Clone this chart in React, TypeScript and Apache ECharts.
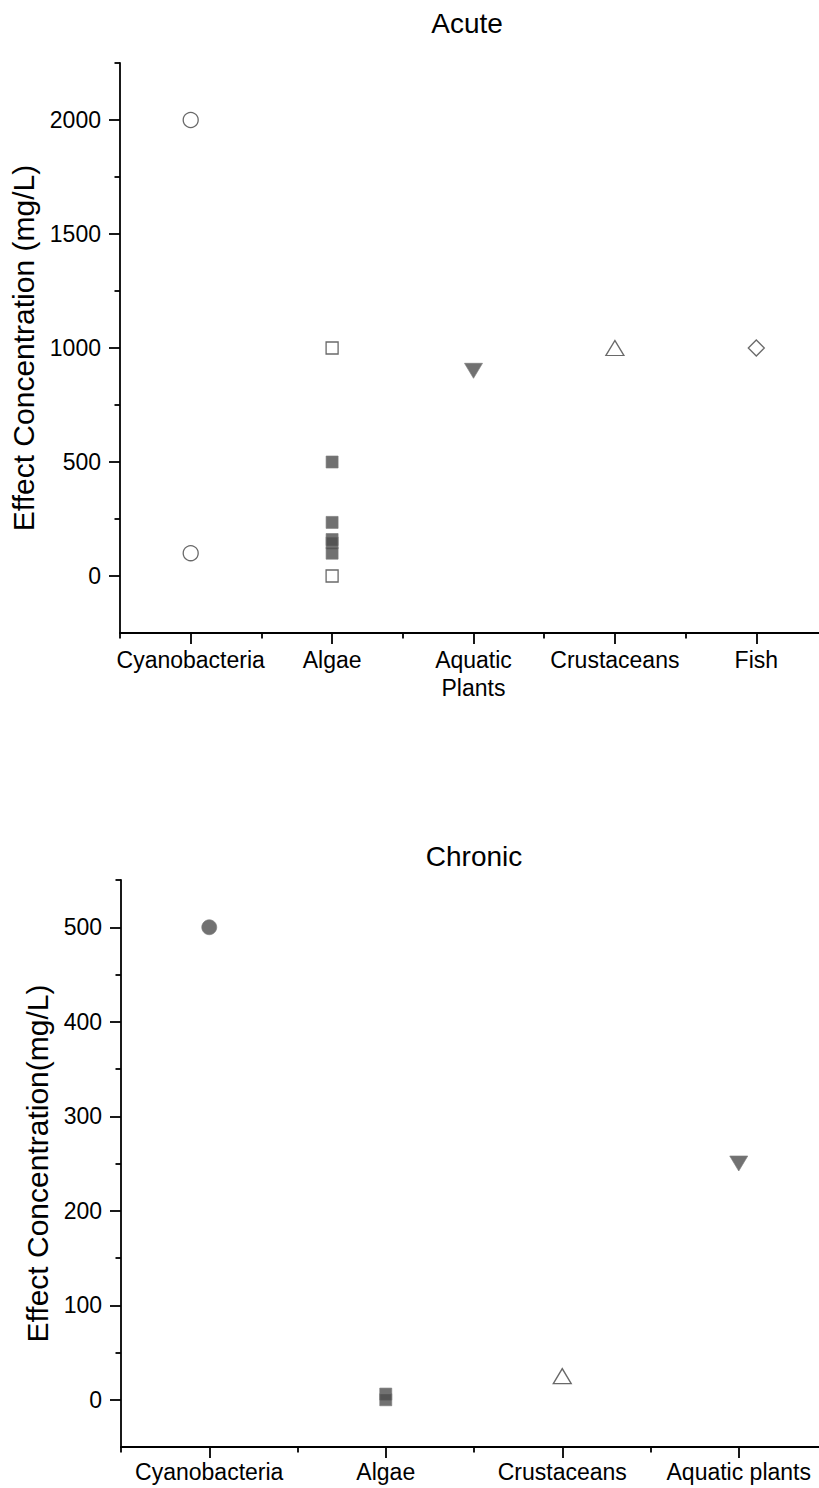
import React, { useEffect, useRef } from "react";
import * as echarts from "echarts";

// ---------- Data ----------
const acuteCategories = ["Cyanobacteria", "Algae", "Aquatic\nPlants", "Crustaceans", "Fish"];
const acuteCyanoOpen = [2000, 100];
const acuteAlgaeOpen = [1000, 0];
const acuteAlgaeFilled = [500, 235, 160, 145, 100];
const acutePlantsFilled = [900];
const acuteCrustOpen = [1000];
const acuteFishOpen = [1000];
const acuteYTicks = [0, 500, 1000, 1500, 2000];
const acuteYMinorTicks = [250, 750, 1250, 1750, 2250];

const chronicCategories = ["Cyanobacteria", "Algae", "Crustaceans", "Aquatic plants"];
const chronicCyanoFilled = [500];
const chronicAlgaeFilled = [6, 0];
const chronicCrustOpen = [25];
const chronicPlantsFilled = [250];
const chronicYTicks = [0, 100, 200, 300, 400, 500];
const chronicYMinorTicks = [50, 150, 250, 350, 450, 550];

// ---------- Style ----------
const FONT = "'Liberation Sans', Arial, sans-serif";
const DARK = "#4d4d4d";
const LINE = "#000";

const pts = (cat: number, vals: number[]) => vals.map((v) => [cat, v]);

const majorX = (n: number) => Array.from({ length: n }, (_, i) => i + 1);
const minorX = (n: number) => Array.from({ length: n + 1 }, (_, i) => i + 0.5);

function xAxes(gridIndex: number, cats: string[], margin: number) {
  const n = cats.length;
  return [
    {
      type: "value",
      gridIndex,
      position: "bottom",
      min: 0.5,
      max: n + 0.5,
      interval: 0.5,
      splitLine: { show: false },
      axisLine: { show: true, onZero: false, lineStyle: { color: LINE, width: 1.8 } },
      axisTick: { show: true, inside: false, length: 11, customValues: majorX(n), lineStyle: { color: LINE, width: 1.8 } },
      axisLabel: {
        show: true,
        customValues: majorX(n),
        margin,
        color: "#000",
        fontSize: 23,
        fontFamily: FONT,
        lineHeight: 28,
        formatter: (v: number) => cats[Math.round(v) - 1] ?? "",
      },
    },
    {
      type: "value",
      gridIndex,
      position: "bottom",
      min: 0.5,
      max: n + 0.5,
      interval: 0.5,
      splitLine: { show: false },
      axisLine: { show: false, onZero: false },
      axisTick: { show: true, inside: false, length: 5.5, customValues: minorX(n), lineStyle: { color: LINE, width: 1.8 } },
      axisLabel: { show: false },
    },
  ];
}

function yAxes(gridIndex: number, min: number, max: number, interval: number, major: number[], minor: number[], name: string) {
  return [
    {
      type: "value",
      gridIndex,
      position: "left",
      min,
      max,
      interval,
      name,
      nameLocation: "middle",
      nameGap: 64,
      nameTextStyle: { fontSize: 30, fontFamily: FONT, color: "#000" },
      splitLine: { show: false },
      axisLine: { show: true, onZero: false, lineStyle: { color: LINE, width: 1.8 } },
      axisTick: { show: true, inside: false, length: 11, customValues: major, lineStyle: { color: LINE, width: 1.8 } },
      axisLabel: {
        show: true,
        customValues: major,
        margin: 19,
        color: "#000",
        fontSize: 23,
        fontFamily: FONT,
        formatter: (v: number) => String(v),
      },
    },
    {
      type: "value",
      gridIndex,
      position: "left",
      min,
      max,
      interval,
      splitLine: { show: false },
      axisLine: { show: false, onZero: false },
      axisTick: { show: true, inside: false, length: 5.5, customValues: minor, lineStyle: { color: LINE, width: 1.8 } },
      axisLabel: { show: false },
    },
  ];
}

const openStyle = { color: "#fff", borderColor: "#444", borderWidth: 1.3 };
const filledStyle = { color: DARK, borderColor: "#7a7a7a", borderWidth: 0.8 };

function scatter(xi: number, yi: number, data: number[][], symbol: string, size: any, style: any, rotate = 0) {
  return {
    type: "scatter",
    xAxisIndex: xi,
    yAxisIndex: yi,
    data,
    symbol,
    symbolSize: size,
    symbolRotate: rotate,
    itemStyle: style,
    emphasis: { disabled: true },
    z: 3,
  };
}

export default function App() {
  const ref = useRef<HTMLDivElement>(null);
  useEffect(() => {
    if (!ref.current) return;
    const chart = echarts.init(ref.current, undefined, { renderer: "svg" });
    const option: any = {
      animation: false,
      backgroundColor: "#fff",
      grid: [
        { left: 120, top: 63, width: 707, height: 570, containLabel: false, outerBoundsMode: "none" },
        { left: 121, top: 880, width: 706, height: 567, containLabel: false, outerBoundsMode: "none" },
      ],
      xAxis: [...xAxes(0, acuteCategories, 13), ...xAxes(1, chronicCategories, 11)],
      yAxis: [
        ...yAxes(0, -250, 2250, 250, acuteYTicks, acuteYMinorTicks, "Effect Concentration (mg/L)"),
        ...yAxes(1, -50, 550, 50, chronicYTicks, chronicYMinorTicks, "Effect Concentration(mg/L)"),
      ],
      graphic: [
        {
          type: "text",
          x: 467,
          y: 23,
          style: { text: "Acute", fontSize: 28, fontFamily: FONT, fill: "#000", textAlign: "center", textVerticalAlign: "middle" },
        },
        {
          type: "text",
          x: 474,
          y: 856,
          style: { text: "Chronic", fontSize: 28, fontFamily: FONT, fill: "#000", textAlign: "center", textVerticalAlign: "middle" },
        },
      ],
      series: [
        scatter(0, 0, pts(1, acuteCyanoOpen), "circle", 15, openStyle),
        scatter(0, 0, pts(2, acuteAlgaeOpen), "rect", 12, openStyle),
        scatter(0, 0, pts(2, acuteAlgaeFilled), "rect", 12, filledStyle),
        scatter(0, 0, pts(3, acutePlantsFilled), "triangle", [18, 15], filledStyle, 180),
        scatter(0, 0, pts(4, acuteCrustOpen), "triangle", [18, 15], openStyle),
        scatter(0, 0, pts(5, acuteFishOpen), "diamond", [16, 16], openStyle),
        scatter(2, 2, pts(1, chronicCyanoFilled), "circle", 15, filledStyle),
        scatter(2, 2, pts(2, chronicAlgaeFilled), "rect", 12, filledStyle),
        scatter(2, 2, pts(3, chronicCrustOpen), "triangle", [18, 15], openStyle),
        scatter(2, 2, pts(4, chronicPlantsFilled), "triangle", [18, 15], filledStyle, 180),
      ],
    };
    chart.setOption(option);
    return () => chart.dispose();
  }, []);
  return (
    <div
      ref={ref}
      style={{ position: "absolute", left: 0, top: 0, width: 819, height: 1488, background: "#fff" }}
    />
  );
}
